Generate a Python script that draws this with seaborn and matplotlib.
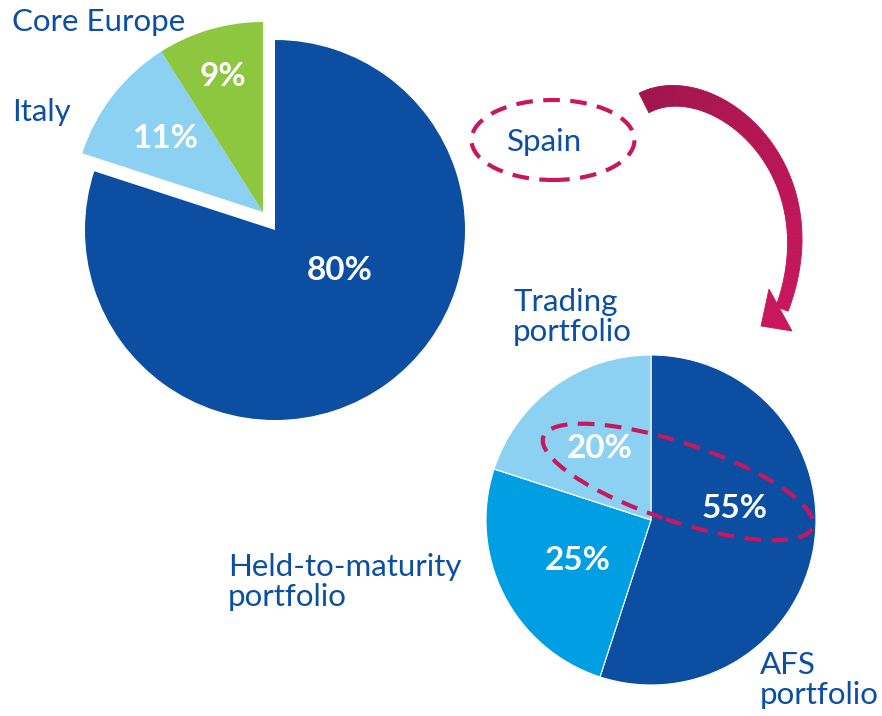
import numpy as np
import seaborn as sns
import matplotlib.pyplot as plt
from matplotlib.patches import Ellipse, Polygon
from matplotlib.colors import to_rgb

# data
country_labels = ["Spain", "Italy", "Core Europe"]
country_share = [80, 11, 9]
portfolio_labels = ["AFS\nportfolio", "Held-to-maturity\nportfolio", "Trading\nportfolio"]
portfolio_share = [55, 25, 20]

sns.set_theme(style="white")
plt.rcParams['font.family'] = ['Lato', 'DejaVu Sans']

dark_blue = "#0B4EA2"
country_colors = [dark_blue, "#8CD1F1", "#8DC63F"]
portfolio_colors = [dark_blue, "#009FE3", "#8CD1F1"]
magenta = "#C8175D"
text_blue = "#0B4EA2"

W, H = 882, 716
fig = plt.figure(figsize=(W / 100, H / 100), dpi=100)
ax = fig.add_axes([0, 0, 1, 1])


def px(x, y):
    # picture pixel (y down) -> axes data (y up)
    return (x, H - y)


# big pie: Spain / Italy / Core Europe
big_c, big_r = px(275, 230), 190
wedges, _ = ax.pie(country_share, colors=country_colors, startangle=90,
                   counterclock=False, center=big_c, radius=big_r,
                   wedgeprops=dict(linewidth=0), frame=True)
# pull out Italy and Core Europe together
shift = np.array([-12, 18])
for w in wedges[1:]:
    w.set_center(tuple(np.array(big_c) + shift))

# small pie: Spain breakdown
small_c, small_r = px(651, 520), 165
ax.pie(portfolio_share, colors=portfolio_colors, startangle=90,
       counterclock=False, center=small_c, radius=small_r,
       wedgeprops=dict(edgecolor="white", linewidth=0.8), frame=True)

ax.set_xlim(0, W)
ax.set_ylim(0, H)
ax.set_aspect("equal")
ax.axis("off")

# percentage labels
pct_fs = 24
pct_pos_big = [px(340, 270), px(166, 138), px(223, 77)]
for v, xy in zip(country_share, pct_pos_big):
    ax.text(*xy, f"{v}%", color="white", fontsize=pct_fs, fontweight="bold",
            ha="center", va="center")
pct_pos_small = [px(735, 508), px(578, 560), px(600, 448)]
for v, xy in zip(portfolio_share, pct_pos_small):
    ax.text(*xy, f"{v}%", color="white", fontsize=pct_fs, fontweight="bold",
            ha="center", va="center")

# category labels
lab_fs = 22.5
ax.text(*px(12, 22), country_labels[2], color=text_blue, fontsize=lab_fs, ha="left", va="center")
ax.text(*px(12, 112), country_labels[1], color=text_blue, fontsize=lab_fs, ha="left", va="center")
ax.text(*px(545, 142), country_labels[0], color=text_blue, fontsize=lab_fs, ha="center", va="center")
ax.text(*px(513, 317), portfolio_labels[2], color=text_blue, fontsize=lab_fs, ha="left",
        va="center", linespacing=1.1)
ax.text(*px(228, 582), portfolio_labels[1], color=text_blue, fontsize=lab_fs, ha="left",
        va="center", linespacing=1.1)
ax.text(*px(760, 680), portfolio_labels[0], color=text_blue, fontsize=lab_fs, ha="left",
        va="center", linespacing=1.1)

# dashed highlights
ax.add_patch(Ellipse(px(553, 140), 163, 80, fill=False, edgecolor=magenta,
                     linewidth=3, linestyle=(0, (4, 2.5))))
ax.add_patch(Ellipse(px(678, 482), 284, 78, angle=-18.5, fill=False, edgecolor=magenta,
                     linewidth=3, linestyle=(0, (4, 2.5))))

# curved arrow from Spain to the breakdown: tapered body with colour gradient
ctrl = np.array([px(644, 103), px(710, 68), px(835, 165), px(782, 309)], dtype=float)
t = np.linspace(0, 1, 90)[:, None]
curve = ((1 - t) ** 3 * ctrl[0] + 3 * (1 - t) ** 2 * t * ctrl[1]
         + 3 * (1 - t) * t ** 2 * ctrl[2] + t ** 3 * ctrl[3])
tang = np.gradient(curve, axis=0)
tang /= np.linalg.norm(tang, axis=1, keepdims=True)
norm = np.column_stack([-tang[:, 1], tang[:, 0]])
half = np.linspace(11, 6.5, len(curve))[:, None]
left, right = curve + norm * half, curve - norm * half
c0, c1 = np.array(to_rgb("#A0154B")), np.array(to_rgb("#C8175D"))
for i in range(len(curve) - 1):
    col = c0 + (c1 - c0) * (i / (len(curve) - 2))
    ax.add_patch(Polygon([left[i], left[i + 1], right[i + 1], right[i]],
                         closed=True, facecolor=col, edgecolor=col, linewidth=0.6))
ax.add_patch(Polygon([px(769, 289), px(792, 331), px(761, 326)], closed=True,
                     facecolor=c1, edgecolor=c1, linewidth=0.6))

fig.savefig("out.png", dpi=100)
